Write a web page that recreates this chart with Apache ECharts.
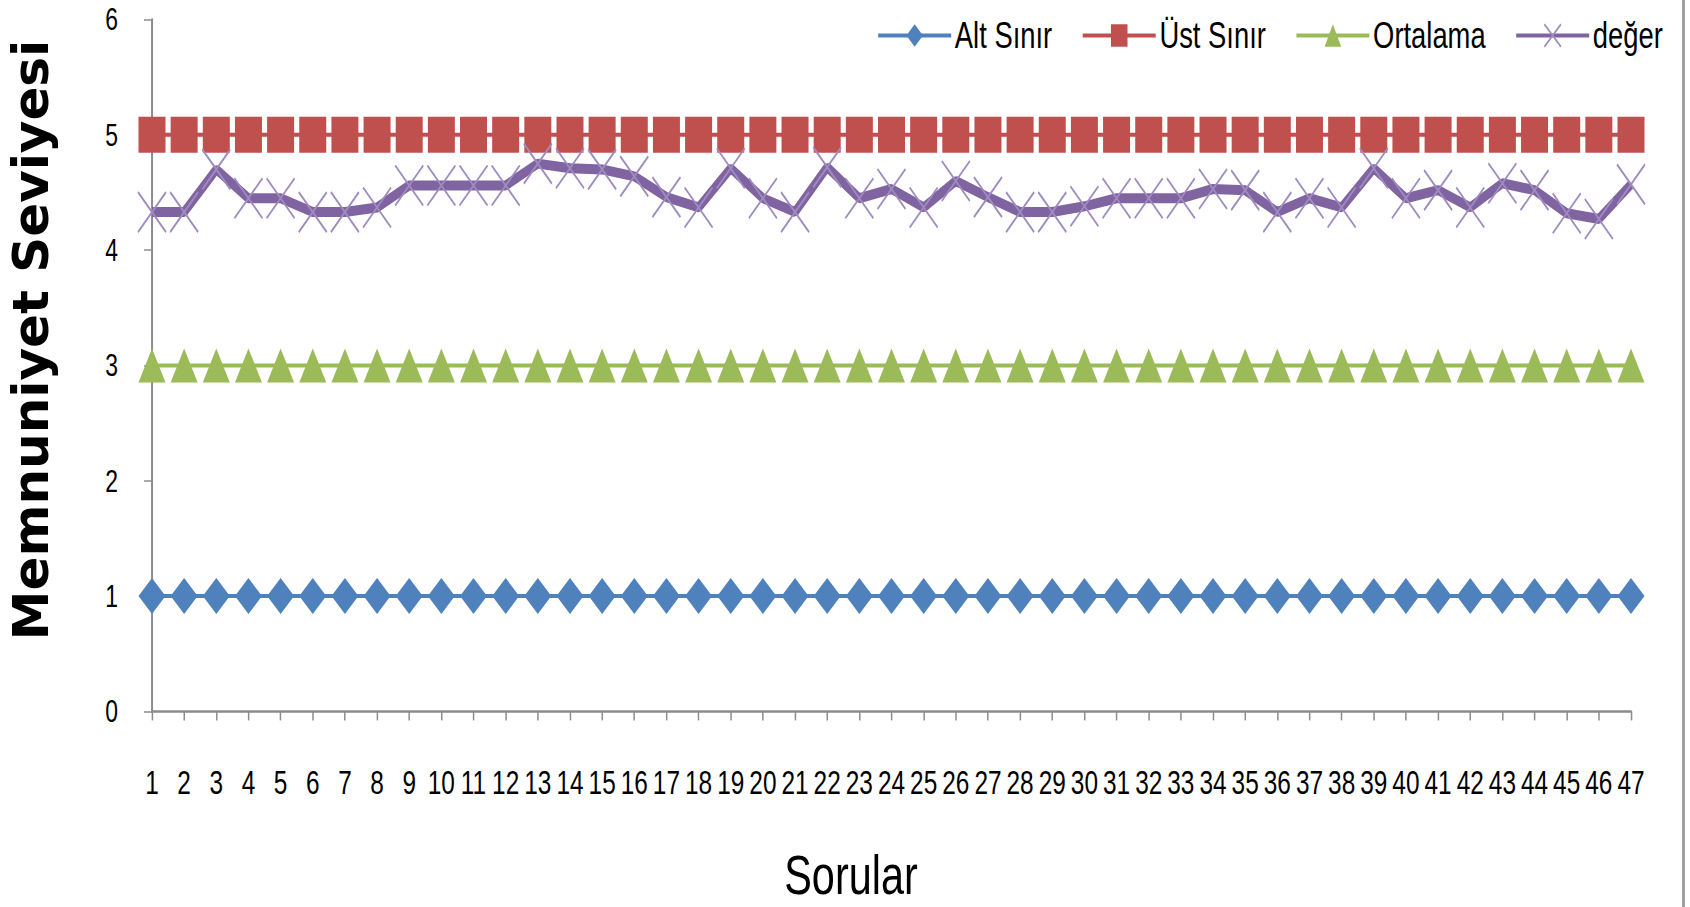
<!DOCTYPE html>
<html>
<head>
<meta charset="utf-8">
<script src="https://cdn.jsdelivr.net/npm/echarts@6/dist/echarts.min.js"></script>
<style>
html,body{margin:0;padding:0;background:#fff;overflow:hidden;}
#wrap{width:1690px;height:907px;overflow:hidden;position:relative;}
#chart{width:2284px;height:907px;transform:scaleX(0.73993);transform-origin:0 0;position:absolute;left:0;top:0;}
</style>
</head>
<body>
<div id="wrap"><div id="chart"></div></div>
<script>
const categories = ['1','2','3','4','5','6','7','8','9','10','11','12','13','14','15','16','17','18','19','20','21','22','23','24','25','26','27','28','29','30','31','32','33','34','35','36','37','38','39','40','41','42','43','44','45','46','47'];
const altSinir = [1,1,1,1,1,1,1,1,1,1,1,1,1,1,1,1,1,1,1,1,1,1,1,1,1,1,1,1,1,1,1,1,1,1,1,1,1,1,1,1,1,1,1,1,1,1,1];
const ustSinir = [5,5,5,5,5,5,5,5,5,5,5,5,5,5,5,5,5,5,5,5,5,5,5,5,5,5,5,5,5,5,5,5,5,5,5,5,5,5,5,5,5,5,5,5,5,5,5];
const ortalama = [3,3,3,3,3,3,3,3,3,3,3,3,3,3,3,3,3,3,3,3,3,3,3,3,3,3,3,3,3,3,3,3,3,3,3,3,3,3,3,3,3,3,3,3,3,3,3];
const deger = [4.33,4.33,4.70,4.45,4.45,4.33,4.33,4.37,4.56,4.56,4.56,4.56,4.75,4.71,4.70,4.64,4.46,4.37,4.71,4.45,4.33,4.72,4.45,4.53,4.37,4.60,4.46,4.33,4.33,4.38,4.45,4.45,4.45,4.53,4.52,4.33,4.45,4.37,4.71,4.45,4.52,4.37,4.58,4.52,4.32,4.27,4.57];
const yTicks = [0,1,2,3,4,5,6];
const seriesNames = ['Alt Sınır','Üst Sınır','Ortalama','değer'];
const xTitle = 'Sorular';
const yTitle = 'Memnuniyet Seviyesi';

// whole chart is drawn 1/S wider and squeezed horizontally by CSS (narrow lettering like the reference)
const S = 0.73993;
const hx = v => v / S;   // horizontal size in page pixels -> chart units
const font = "'Liberation Sans', Arial, sans-serif";
const axisGray = '#8c8c8c';
const chart = echarts.init(document.getElementById('chart'), null, {renderer: 'svg'});
chart.setOption({
  animation: false,
  backgroundColor: '#fff',
  grid: {left: hx(152), right: hx(59), top: 19.5, bottom: 195.6, containLabel: false},
  legend: {
    left: hx(873), top: 12,
    itemWidth: hx(73), itemHeight: 28, itemGap: hx(29),
    lineStyle: {width: 4},
    textStyle: {fontFamily: font, fontSize: 37, color: '#000'},
    data: seriesNames
  },
  xAxis: {
    type: 'category',
    data: categories,
    boundaryGap: false,
    axisLine: {lineStyle: {color: axisGray, width: 2.5}},
    axisTick: {show: true, length: 9, alignWithLabel: true, lineStyle: {color: axisGray, width: hx(1.5)}},
    axisLabel: {interval: 0, margin: 55, fontFamily: font, fontSize: 33, color: '#000'},
    splitLine: {show: false}
  },
  yAxis: {
    type: 'value',
    min: yTicks[0], max: yTicks[yTicks.length-1], interval: 1,
    axisLine: {show: true, lineStyle: {color: axisGray, width: hx(2)}},
    axisTick: {show: true, length: hx(8), lineStyle: {color: axisGray, width: 1.5}},
    axisLabel: {margin: hx(34), fontFamily: font, fontSize: 31, color: '#000'},
    splitLine: {show: false}
  },
  graphic: [
    {type: 'text', x: hx(851), y: 874, style: {text: xTitle, font: "56px 'Liberation Sans', Arial, sans-serif", fill: '#000', textAlign: 'center', textVerticalAlign: 'middle'}},
    {type: 'text', x: hx(31), y: 340, rotation: Math.PI/2, scaleY: 1/S, style: {text: yTitle, font: "bold 50px 'DejaVu Sans', sans-serif", fill: '#000', textAlign: 'center', textVerticalAlign: 'middle'}},
    {type: 'rect', shape: {x: hx(1682), y: 0, width: hx(3), height: 907}, style: {fill: '#a0a0a0'}}
  ],
  series: [
    {name: seriesNames[0], type: 'line', data: altSinir, color: '#4F81BD',
     symbol: 'diamond', symbolSize: [hx(27), 36], lineStyle: {width: 4}, z: 2},
    {name: seriesNames[1], type: 'line', data: ustSinir, color: '#C0504D',
     symbol: 'rect', symbolSize: [hx(27), 36], lineStyle: {width: 4}, z: 2},
    {name: seriesNames[2], type: 'line', data: ortalama, color: '#9BBB59',
     symbol: 'triangle', symbolSize: [hx(27), 34], lineStyle: {width: 4}, z: 2},
    {name: seriesNames[3], type: 'line', data: deger, color: '#8064A2',
     symbol: 'path://M0,0L10,14M10,0L0,14', symbolSize: [hx(28), 40],
     itemStyle: {color: 'rgba(0,0,0,0)', borderColor: '#9f8bc0', borderWidth: 2.2},
     lineStyle: {width: 10, color: '#8064A2'}, z: 3}
  ]
});
</script>
</body>
</html>
